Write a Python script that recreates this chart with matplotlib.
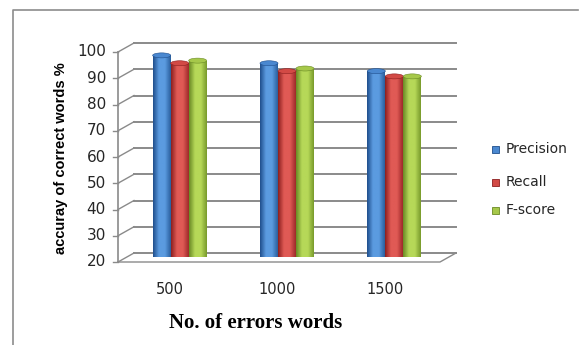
import numpy as np
import matplotlib
matplotlib.use("Agg")
import matplotlib.pyplot as plt
import matplotlib.transforms as mtransforms
from matplotlib.patches import Rectangle, Ellipse
from matplotlib.colors import LinearSegmentedColormap
from matplotlib.lines import Line2D

categories = ["500", "1000", "1500"]
precision = [97, 94, 91]
recall = [94, 91, 89]
fscore = [95, 92, 89]
series_names = ["Precision", "Recall", "F-score"]
y_ticks = list(range(20, 101, 10))

# dark edge -> light highlight -> dark edge for the cylinder look
shades = {
    "Precision": ("#1f4e8c", "#5b9be0", "#2a5f9e"),
    "Recall": ("#8c1f1f", "#e05a55", "#9e2a2a"),
    "F-score": ("#6a8a25", "#b6d858", "#789a2c"),
}
tops = {"Precision": "#4a88d0", "Recall": "#d24a45", "F-score": "#a6c84a"}

W, H = 579, 345
fig = plt.figure(figsize=(W / 100, H / 100), dpi=100)

# back wall of the 3D box (pixel layout)
x0, x1, y_top, y_bot = 134, 456, 43, 253
ax = fig.add_axes([x0 / W, (H - y_bot) / H, (x1 - x0) / W, (y_bot - y_top) / H])
ax.set_axis_off()
xmin, xmax = -0.5, 2.5
ymin, ymax = 20, 100
px_x = (x1 - x0) / (xmax - xmin)
px_y = (y_bot - y_top) / (ymax - ymin)
dx = 16 / px_x   # depth offset in data units
dy = 9 / px_y

grid_c = "#8a8a8a"
txt_c = "#262626"
# back wall gridlines
for v in y_ticks:
    ax.plot([xmin, xmax], [v, v], color=grid_c, lw=1.4, clip_on=False, zorder=1)
    # slanted connector to the front axis + tick mark
    ax.plot([xmin - dx, xmin], [v - dy, v], color=grid_c, lw=1.0, clip_on=False, zorder=1)
    ax.plot([xmin - dx - 5 / px_x, xmin - dx], [v - dy, v - dy], color=grid_c, lw=1.0,
            clip_on=False, zorder=1)
    ax.text(xmin - dx - 12 / px_x, v - dy, str(v), ha="right", va="center",
            fontsize=11, family="DejaVu Sans", color=txt_c)

# front vertical axis and floor outline
ax.plot([xmin - dx, xmin - dx], [ymin - dy, ymax - dy], color=grid_c, lw=1.2, clip_on=False)
ax.plot([xmin - dx, xmax - dx, xmax], [ymin - dy, ymin - dy, ymin], color=grid_c, lw=1.0,
        clip_on=False)

# cylinder bars in the middle depth plane
bw = 18 / px_x
vals = {"Precision": precision, "Recall": recall, "F-score": fscore}
grad = np.linspace(0, 1, 64).reshape(1, -1)
for k, name in enumerate(series_names):
    cmap = LinearSegmentedColormap.from_list(name, [shades[name][0], shades[name][1],
                                                    shades[name][1], shades[name][2]])
    for i, v in enumerate(vals[name]):
        xc = i + (k - 1) * bw - dx / 2
        b = ymin - dy / 2
        top = v - dy / 2
        rect = Rectangle((xc - bw / 2, b), bw, top - b, facecolor="none", edgecolor="none")
        ax.add_patch(rect)
        im = ax.imshow(grad, cmap=cmap, aspect="auto", extent=(xc - bw / 2, xc + bw / 2, b, top),
                       zorder=3, interpolation="bilinear")
        im.set_clip_path(rect)
        ax.add_patch(Ellipse((xc, top), bw, 5 / px_y, facecolor=tops[name],
                             edgecolor=shades[name][0], lw=0.4, zorder=4))

ax.set_xlim(xmin, xmax)
ax.set_ylim(ymin, ymax)

# category labels along the front floor
for i, c in enumerate(categories):
    ax.text(i - dx * 1.1, ymin - dy - 27 / px_y, c, ha="center", va="center",
            fontsize=10.5, family="DejaVu Sans", color=txt_c)

fig.text(256 / W, 1 - 323 / H, "No. of errors words", ha="center", va="center",
         fontsize=15, fontweight="bold", family="Liberation Serif")
fig.text(61 / W, 1 - 158 / H, "accuray of correct words %", ha="center", va="center",
         rotation=90, fontsize=10.5, fontweight="bold", family="Liberation Sans")

# legend
ident = mtransforms.IdentityTransform()
for k, (name, yc) in enumerate(zip(series_names, [149, 182, 210])):
    fig.patches.append(Rectangle((492, H - yc - 3.5), 7, 7, transform=ident,
                                 facecolor=tops[name], edgecolor=shades[name][0], lw=0.6))
    fig.text(506 / W, 1 - yc / H, name, ha="left", va="center", fontsize=10,
             family="DejaVu Sans", color=txt_c)

# chart frame
fig.add_artist(Line2D([13 / W, 13 / W, 578 / W], [0, 1 - 10 / H, 1 - 10 / H],
                      transform=fig.transFigure, color="#8c8c8c", lw=1.2))

fig.savefig("out.png", dpi=100)
